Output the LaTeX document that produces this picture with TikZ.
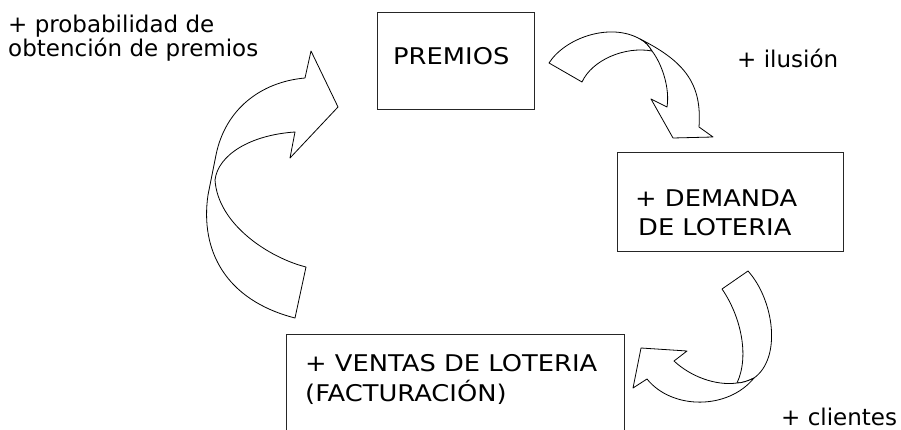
\documentclass[tikz,border=0pt]{standalone}
\usepackage{fontspec}
\setmainfont{DejaVu Sans}
\newfontfamily\boxfont[FakeStretch=1.12]{DejaVu Sans}
\begin{document}
\begin{tikzpicture}[x=1pt,y=-1pt,
  box/.style={draw=black!85, line width=0.9pt, rectangle, inner sep=0pt},
  lbl/.style={anchor=base west, inner sep=0pt, font=\fontsize{23}{28}\selectfont},
  boxtxt/.style={anchor=base west, inner sep=0pt, font=\boxfont\fontsize{23}{28}\selectfont},
  barrow/.style={draw=black, fill=white, line width=0.8pt, line join=round}]
\useasboundingbox (0,0) rectangle (901,430);
\clip (0,0) rectangle (901,430);
\fill[white] (0,0) rectangle (901,430);

% boxes
\node[box, minimum width=157pt, minimum height=97pt] (premios) at (455.5,60.5) {};
\node[box, minimum width=226pt, minimum height=99pt] (demanda) at (730,201.5) {};
\node[box, minimum width=338pt, minimum height=116pt] (ventas) at (455,392) {};

% box texts
\node[boxtxt] (tpremios) at (393,65) {PREMIOS};
\node[boxtxt] (tdem1) at (635,206.5) {+ DEMANDA};
\node[boxtxt] (tdem2) at (638,235.5) {DE LOTERIA};
\node[boxtxt] (tven1) at (305,371.5) {+ VENTAS DE LOTERIA};
\node[boxtxt] (tven2) at (305,401.5) {(FACTURACIÓN)};

% labels
\node[lbl] (lprob1) at (8,33) {+ probabilidad de};
\node[lbl] (lprob2) at (8,57) {obtención de premios};
\node[lbl] (lilu) at (737,68) {+ ilusión};
\node[lbl] (lcli) at (781,425) {+ clientes};

% arrow 1 (left, up to PREMIOS)
\draw[barrow] (311,51) -- (338,107) -- (290,158) -- (295,132)
  .. controls (250,135) and (218,155) .. (215,180)
  .. controls (218,225) and (270,258) .. (306,267)
  -- (295,318)
  .. controls (225,300) and (200,250) .. (208,195)
  -- (216,155)
  .. controls (225,110) and (260,82) .. (305,78) -- cycle;

% arrow 2 (PREMIOS to DEMANDA)
\draw[barrow] (549,63) .. controls (565,38) and (610,22) .. (640,39)
  .. controls (646,42) and (649,46) .. (652,51)
  .. controls (625,46) and (592,60) .. (582,82) -- cycle;
\draw[barrow] (640,39) .. controls (686,62) and (702,85) .. (699,127)
  -- (713,137) -- (673,138) -- (651,99) -- (667,107)
  .. controls (670,88) and (662,64) .. (652,51)
  .. controls (649,46) and (646,42) .. (640,39) -- cycle;

% arrow 3 (DEMANDA to VENTAS)
\draw[barrow] (748,271) .. controls (774,300) and (782,358) .. (754,378)
  .. controls (748,381) and (742,383) .. (737,383)
  .. controls (750,355) and (740,315) .. (722,289) -- cycle;
\draw[barrow] (754,378) .. controls (728,410) and (672,410) .. (647,379)
  -- (633,388) -- (641,348) -- (687,351) -- (674,361)
  .. controls (690,376) and (715,386) .. (737,383)
  .. controls (742,383) and (748,381) .. (754,378) -- cycle;
\end{tikzpicture}
\end{document}
